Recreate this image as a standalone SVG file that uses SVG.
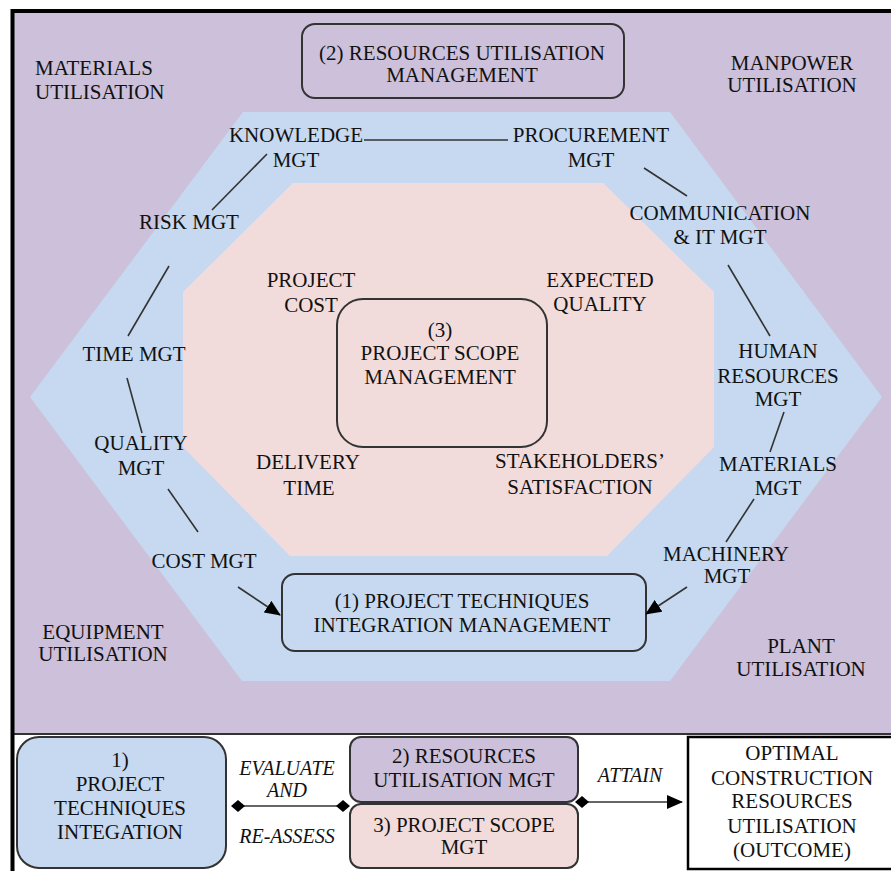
<svg xmlns="http://www.w3.org/2000/svg" width="891" height="871" viewBox="0 0 891 871">
<defs>
<style>
text{font-size:21px;fill:#111;text-anchor:middle}
.l{text-anchor:start}
.it{font-style:italic;font-size:20px}
.box{stroke:#333;stroke-width:2}
.ln{stroke:#333;stroke-width:1.6;fill:none}
</style>
<marker id="arr" markerUnits="userSpaceOnUse" markerWidth="16" markerHeight="14" refX="15" refY="7" orient="auto"><path d="M0,0 L16,7 L0,14 Z" fill="#000"/></marker>
<marker id="dia" markerUnits="userSpaceOnUse" markerWidth="14" markerHeight="12" refX="7" refY="6" orient="auto"><path d="M0,6 L7,0 L14,6 L7,12 Z" fill="#000"/></marker>
</defs>
<rect x="0" y="0" width="891" height="871" fill="#fff"/>
<rect x="13" y="12" width="878" height="722" fill="#CCC0DA"/>
<line x1="13" y1="734" x2="891" y2="734" stroke="#333" stroke-width="2"/>
<polygon points="243,112 670,112 882,397 670,681 242,681 30,397" fill="#C6D9F0"/>
<polygon points="293,183 603,183 714,292 714,447 607,556 290,556 183,447 183,292" fill="#F2DCDB"/>
<rect x="12.5" y="11" width="890" height="870" fill="none" stroke="#000" stroke-width="4"/>
<g font-family="Liberation Serif, DejaVu Serif, serif">
<g id="materials-util"><text class="l" x="35" y="75">MATERIALS</text><text class="l" x="35" y="99">UTILISATION</text></g>
<g id="manpower-util"><text x="792" y="70">MANPOWER</text><text x="792" y="92">UTILISATION</text></g>
<g id="equipment-util"><text x="103" y="639">EQUIPMENT</text><text x="103" y="661">UTILISATION</text></g>
<g id="plant-util"><text x="801" y="653">PLANT</text><text x="801" y="676">UTILISATION</text></g>

<g id="resources-box"><rect class="box" x="302" y="24" width="322" height="74" rx="13" fill="#CCC0DA"/><text x="462" y="60">(2) RESOURCES UTILISATION</text><text x="462" y="82">MANAGEMENT</text></g>
<g id="scope-box"><rect class="box" x="337" y="299" width="210" height="148" rx="26" fill="none"/><text x="440" y="337">(3)</text><text x="440" y="360">PROJECT SCOPE</text><text x="440" y="384">MANAGEMENT</text></g>
<g id="integration-box"><rect class="box" x="282" y="574" width="364" height="77" rx="13" fill="#C6D9F0"/><text x="462" y="608">(1) PROJECT TECHNIQUES</text><text x="462" y="632">INTEGRATION MANAGEMENT</text></g>

<g id="knowledge"><text x="296" y="142">KNOWLEDGE</text><text x="296" y="167">MGT</text></g>
<g id="procurement"><text x="591" y="142">PROCUREMENT</text><text x="591" y="167">MGT</text></g>
<g id="risk"><text x="189" y="229">RISK MGT</text></g>
<g id="communication"><text x="720" y="220">COMMUNICATION</text><text x="720" y="244">&amp; IT MGT</text></g>
<g id="time"><text x="134" y="361">TIME MGT</text></g>
<g id="human"><text x="778" y="358">HUMAN</text><text x="778" y="383">RESOURCES</text><text x="778" y="406">MGT</text></g>
<g id="quality"><text x="141" y="450">QUALITY</text><text x="141" y="475">MGT</text></g>
<g id="materials"><text x="778" y="471">MATERIALS</text><text x="778" y="495">MGT</text></g>
<g id="cost"><text x="204" y="568">COST MGT</text></g>
<g id="machinery"><text x="726" y="561">MACHINERY</text><text x="727" y="583">MGT</text></g>

<g id="project-cost"><text x="311" y="287">PROJECT</text><text x="311" y="312">COST</text></g>
<g id="expected-quality"><text x="600" y="287">EXPECTED</text><text x="600" y="311">QUALITY</text></g>
<g id="delivery-time"><text x="308" y="469">DELIVERY</text><text x="309" y="495">TIME</text></g>
<g id="stakeholders"><text x="580" y="468">STAKEHOLDERS’</text><text x="580" y="494">SATISFACTION</text></g>

<g id="legend-1"><rect class="box" x="17" y="737" width="209" height="131" rx="22" fill="#C6D9F0"/><text x="120" y="767">1)</text><text x="120" y="791">PROJECT</text><text x="120" y="815">TECHNIQUES</text><text x="120" y="839">INTEGATION</text></g>
<g id="legend-2"><rect class="box" x="350" y="737" width="228" height="65" rx="11" fill="#CCC0DA"/><text x="464" y="763">2) RESOURCES</text><text x="464" y="787">UTILISATION MGT</text></g>
<g id="legend-3"><rect class="box" x="350" y="804" width="228" height="64" rx="11" fill="#F2DCDB"/><text x="464" y="832">3) PROJECT SCOPE</text><text x="464" y="854">MGT</text></g>
<g id="outcome"><rect x="688" y="737" width="210" height="132" fill="#fff" stroke="#000" stroke-width="2.5"/><text x="792" y="760">OPTIMAL</text><text x="792" y="785">CONSTRUCTION</text><text x="792" y="808">RESOURCES</text><text x="792" y="833">UTILISATION</text><text x="792" y="857">(OUTCOME)</text></g>
<g id="evaluate-label"><text class="it" x="287" y="775">EVALUATE</text><text class="it" x="287" y="797">AND</text><text class="it" x="287" y="843">RE-ASSESS</text></g>
<g id="attain-label"><text class="it" x="630" y="782">ATTAIN</text></g>
</g>
<g id="connectors">
<line class="ln" x1="364" y1="140" x2="508" y2="140"/>
<line class="ln" x1="267" y1="154" x2="212" y2="210"/>
<line class="ln" x1="644" y1="168" x2="687" y2="196"/>
<line class="ln" x1="169" y1="266" x2="128" y2="336"/>
<line class="ln" x1="728" y1="265" x2="770" y2="336"/>
<line class="ln" x1="127" y1="378" x2="142" y2="433"/>
<line class="ln" x1="784" y1="412" x2="770" y2="452"/>
<line class="ln" x1="168" y1="489" x2="198" y2="532"/>
<line class="ln" x1="754" y1="499" x2="726" y2="542"/>
<line class="ln" x1="238" y1="587" x2="280" y2="615" marker-end="url(#arr)"/>
<line class="ln" x1="687" y1="587" x2="646" y2="614" marker-end="url(#arr)"/>
<line class="ln" x1="238" y1="806" x2="343" y2="806" stroke-width="2" marker-start="url(#dia)" marker-end="url(#dia)"/>
<line class="ln" x1="582" y1="802" x2="682" y2="802" stroke-width="2" marker-start="url(#dia)" marker-end="url(#arr)"/>
</g>
</svg>
